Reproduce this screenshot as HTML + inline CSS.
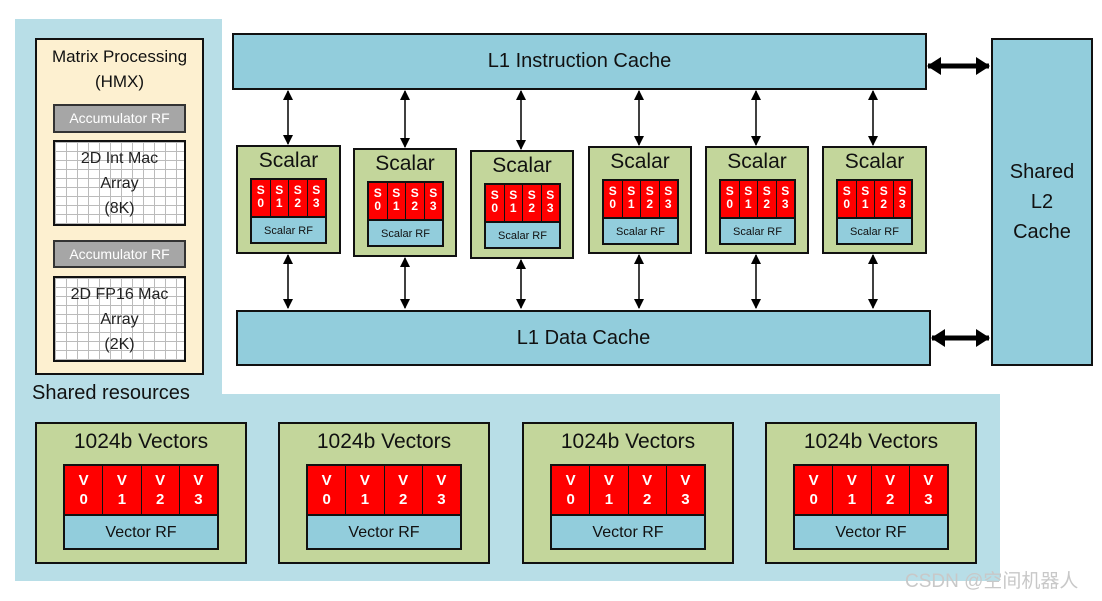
<!DOCTYPE html>
<html><head><meta charset="utf-8"><style>
*{margin:0;padding:0;box-sizing:border-box}
body{width:1102px;height:601px;background:#fff;position:relative;overflow:hidden;font-family:"Liberation Sans","Noto Sans CJK SC",sans-serif;color:#111}
.a{position:absolute}
.bl{background:#b8dee7}
.c{background:#92cddc;border:2px solid #111;display:flex;align-items:center;justify-content:center;font-size:20px}
.sc{background:#c3d69b;border:2px solid #111}
.sc .t{position:absolute;left:0;right:0;top:2px;text-align:center;font-size:21px}
.in{position:absolute;border:2px solid #111}
.reds{display:flex;height:36px}
.reds div{flex:1;background:#f00;color:#fff;font-weight:bold;font-size:12px;line-height:13px;text-align:center;border-right:1.5px solid #111;padding-top:4px}
.reds div:last-child{border-right:none}
.rf{background:#92cddc;border-top:2px solid #111;text-align:center;font-size:11px;height:26px;line-height:26px}
.vreds{height:48px}
.vreds div{font-size:15px;line-height:19px;padding-top:5px}
.vrf{height:34px;line-height:34px;font-size:16px}
.acc{background:#a6a6a6;border:2px solid #333;color:#fff;text-align:center;font-size:14px;line-height:24px}
.grid{border:2px solid #111;background-color:#fff;background-image:linear-gradient(#bbb 1px,transparent 1px),linear-gradient(90deg,#bbb 1px,transparent 1px);background-size:11px 9px;text-align:center;font-size:16px;line-height:25px;padding-top:4px;color:#222}
svg{position:absolute;left:0;top:0}
</style></head><body>
<div class="a bl" style="left:15px;top:19px;width:207px;height:376px"></div>
<div class="a bl" style="left:15px;top:394px;width:985px;height:187px"></div>

<div class="a" style="left:35px;top:38px;width:169px;height:337px;background:#fdf0d0;border:2px solid #111"></div>
<div class="a" style="left:35px;top:44px;width:169px;text-align:center;font-size:17px;line-height:25px">Matrix Processing<br>(HMX)</div>
<div class="a acc" style="left:53px;top:104px;width:133px;height:29px">Accumulator RF</div>
<div class="a grid" style="left:53px;top:140px;width:133px;height:86px">2D Int Mac<br>Array<br>(8K)</div>
<div class="a acc" style="left:53px;top:240px;width:133px;height:28px">Accumulator RF</div>
<div class="a grid" style="left:53px;top:276px;width:133px;height:86px">2D FP16 Mac<br>Array<br>(2K)</div>
<div class="a" style="left:32px;top:382px;font-size:20px">Shared resources</div>

<div class="a c" style="left:232px;top:33px;width:695px;height:57px">L1 Instruction Cache</div>
<div class="a c" style="left:236px;top:310px;width:695px;height:56px">L1 Data Cache</div>
<div class="a c" style="left:991px;top:38px;width:102px;height:328px;line-height:30px;text-align:center">Shared<br>L2<br>Cache</div>

<div class="a sc" style="left:236px;top:145px;width:105px;height:109px"><div class="t">Scalar</div><div class="in" style="left:12px;top:31px;width:77px"><div class="reds"><div>S<br>0</div><div>S<br>1</div><div>S<br>2</div><div>S<br>3</div></div><div class="rf">Scalar RF</div></div></div>
<div class="a sc" style="left:353px;top:148px;width:104px;height:109px"><div class="t">Scalar</div><div class="in" style="left:12px;top:31px;width:77px"><div class="reds"><div>S<br>0</div><div>S<br>1</div><div>S<br>2</div><div>S<br>3</div></div><div class="rf">Scalar RF</div></div></div>
<div class="a sc" style="left:470px;top:150px;width:104px;height:109px"><div class="t">Scalar</div><div class="in" style="left:12px;top:31px;width:77px"><div class="reds"><div>S<br>0</div><div>S<br>1</div><div>S<br>2</div><div>S<br>3</div></div><div class="rf">Scalar RF</div></div></div>
<div class="a sc" style="left:588px;top:146px;width:104px;height:108px"><div class="t">Scalar</div><div class="in" style="left:12px;top:31px;width:77px"><div class="reds"><div>S<br>0</div><div>S<br>1</div><div>S<br>2</div><div>S<br>3</div></div><div class="rf">Scalar RF</div></div></div>
<div class="a sc" style="left:705px;top:146px;width:104px;height:108px"><div class="t">Scalar</div><div class="in" style="left:12px;top:31px;width:77px"><div class="reds"><div>S<br>0</div><div>S<br>1</div><div>S<br>2</div><div>S<br>3</div></div><div class="rf">Scalar RF</div></div></div>
<div class="a sc" style="left:822px;top:146px;width:105px;height:108px"><div class="t">Scalar</div><div class="in" style="left:12px;top:31px;width:77px"><div class="reds"><div>S<br>0</div><div>S<br>1</div><div>S<br>2</div><div>S<br>3</div></div><div class="rf">Scalar RF</div></div></div>

<div class="a sc" style="left:35px;top:422px;width:212px;height:142px"><div class="t" style="top:6px">1024b Vectors</div><div class="in" style="left:26px;top:40px;width:156px"><div class="reds vreds"><div>V<br>0</div><div>V<br>1</div><div>V<br>2</div><div>V<br>3</div></div><div class="rf vrf">Vector RF</div></div></div>
<div class="a sc" style="left:278px;top:422px;width:212px;height:142px"><div class="t" style="top:6px">1024b Vectors</div><div class="in" style="left:26px;top:40px;width:156px"><div class="reds vreds"><div>V<br>0</div><div>V<br>1</div><div>V<br>2</div><div>V<br>3</div></div><div class="rf vrf">Vector RF</div></div></div>
<div class="a sc" style="left:522px;top:422px;width:212px;height:142px"><div class="t" style="top:6px">1024b Vectors</div><div class="in" style="left:26px;top:40px;width:156px"><div class="reds vreds"><div>V<br>0</div><div>V<br>1</div><div>V<br>2</div><div>V<br>3</div></div><div class="rf vrf">Vector RF</div></div></div>
<div class="a sc" style="left:765px;top:422px;width:212px;height:142px"><div class="t" style="top:6px">1024b Vectors</div><div class="in" style="left:26px;top:40px;width:156px"><div class="reds vreds"><div>V<br>0</div><div>V<br>1</div><div>V<br>2</div><div>V<br>3</div></div><div class="rf vrf">Vector RF</div></div></div>

<svg width="1102" height="601">
<defs><marker id="m" markerWidth="10" markerHeight="10" refX="9" refY="5" orient="auto-start-reverse" markerUnits="userSpaceOnUse"><path d="M0,0 L10,5 L0,10 Z" fill="#000"/></marker>
<marker id="M" markerWidth="14" markerHeight="18" refX="13" refY="9" orient="auto-start-reverse" markerUnits="userSpaceOnUse"><path d="M0,0 L14,9 L0,18 Z" fill="#000"/></marker></defs>
<g stroke="#000" stroke-width="1.5" marker-start="url(#m)" marker-end="url(#m)">
<line x1="288" y1="91" x2="288" y2="144"/><line x1="288" y1="255" x2="288" y2="308"/>
<line x1="405" y1="91" x2="405" y2="147"/><line x1="405" y1="258" x2="405" y2="308"/>
<line x1="521" y1="91" x2="521" y2="149"/><line x1="521" y1="260" x2="521" y2="308"/>
<line x1="639" y1="91" x2="639" y2="145"/><line x1="639" y1="255" x2="639" y2="308"/>
<line x1="756" y1="91" x2="756" y2="145"/><line x1="756" y1="255" x2="756" y2="308"/>
<line x1="873" y1="91" x2="873" y2="145"/><line x1="873" y1="255" x2="873" y2="308"/>
</g>
<g stroke="#000" stroke-width="5" marker-start="url(#M)" marker-end="url(#M)">
<line x1="928" y1="66" x2="989" y2="66"/>
<line x1="932" y1="338" x2="989" y2="338"/>
</g>
</svg>
<div class="a" style="left:905px;top:566px;font-size:19px;color:#c8c8c8">CSDN @空间机器人</div>
</body></html>
